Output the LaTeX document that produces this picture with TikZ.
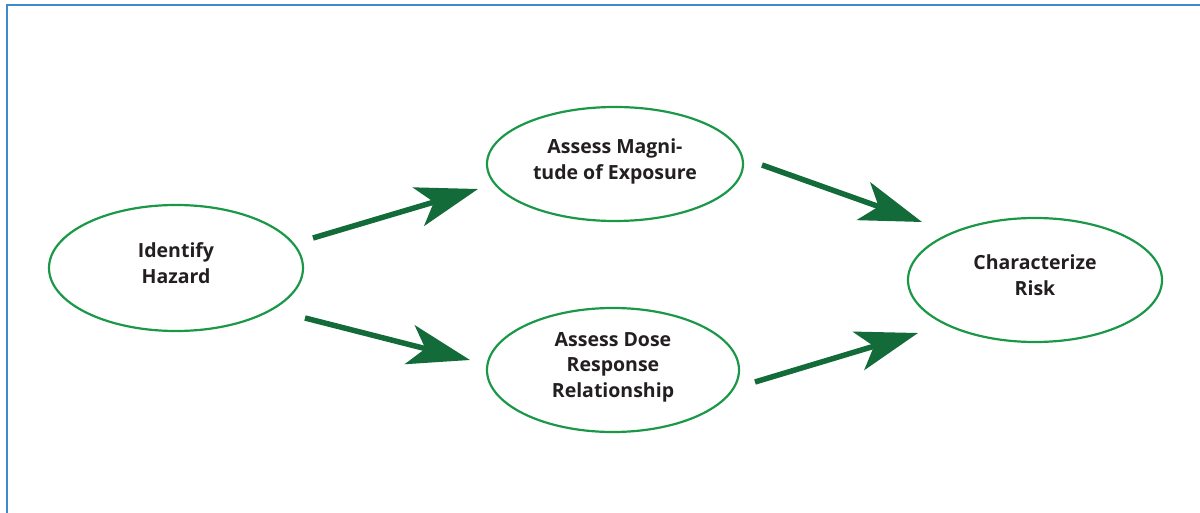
\documentclass[tikz,border=0pt]{standalone}
\usepackage{fontspec}
\setmainfont{Open Sans}
\usetikzlibrary{shapes.geometric,arrows.meta}
\definecolor{riskGreen}{HTML}{1A9848}
\definecolor{riskDark}{HTML}{146B3A}
\definecolor{riskBlue}{HTML}{3D8BCB}
\definecolor{riskText}{HTML}{231F20}

\begin{document}
\begin{tikzpicture}[x=1pt,y=-1pt,
    step node/.style={ellipse, draw=riskGreen, line width=2.2pt, inner sep=0pt,
        text=riskText, align=center, text depth=10pt,
        font=\bfseries\fontsize{19.5}{25.5}\selectfont},
    risk arrow/.style={draw=riskDark, line width=5.5pt,
        -{Stealth[length=62pt,width=40pt,inset=16pt,fill=riskDark]}}]
                \useasboundingbox (0,0) rectangle (1200,513);
                \draw[riskBlue, line width=2pt] (6.5,513) -- (6.5,5) -- (1200,5);

                \node[step node, minimum width=254pt, minimum height=126pt] (1) at (176,268) {Identify\\Hazard};
                \node[step node, minimum width=256pt, minimum height=114pt] (2) at (615,164) {Assess Magni-\\tude of Exposure};
                \node[step node, minimum width=252pt, minimum height=124pt] (3) at (613,370) {Assess Dose\\Response\\Relationship};
                \node[step node, minimum width=254pt, minimum height=124pt] (4) at (1035,280) {Characterize\\Risk};

                \coordinate (1a) at (313,238);
                \coordinate (2a) at (478,189);
                \coordinate (1b) at (305,318);
                \coordinate (3b) at (470,360);
                \coordinate (2c) at (762,165);
                \coordinate (4c) at (922,222);
                \coordinate (3d) at (755,382);
                \coordinate (4d) at (918,333);

                \path[every edge/.style={risk arrow}]
                    (1a) edge (2a)
                    (1b) edge (3b)
                    (2c) edge (4c)
                    (3d) edge (4d)
                ;
            \end{tikzpicture}
\end{document}
